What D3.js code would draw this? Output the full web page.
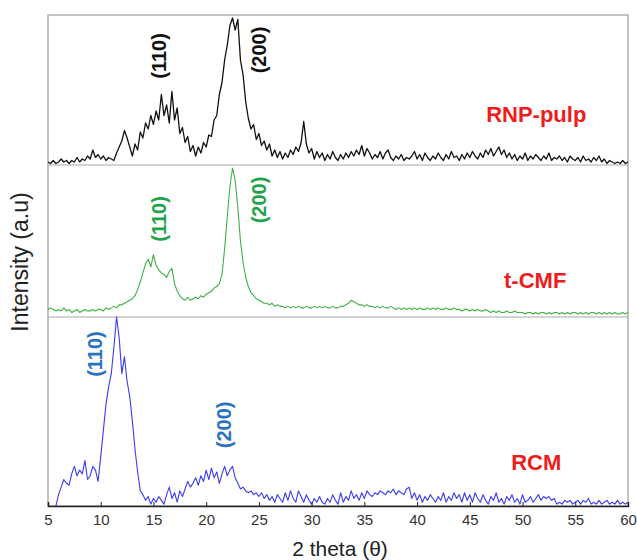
<!DOCTYPE html>
<html>
<head>
<meta charset="utf-8">
<script src="https://cdn.jsdelivr.net/npm/d3@7"></script>
<style>
  body { margin: 0; background: #fff; }
  text { font-family: "Liberation Sans", Arial, sans-serif; }
</style>
</head>
<body>
<svg id="chart" width="637" height="560"></svg>
<script>
// sample grid: 5..60 deg, step 0.25
const angles = d3.range(221).map(i => 5 + i * 0.25);
const xTicks = [5, 10, 15, 20, 25, 30, 35, 40, 45, 50, 55, 60];

// intensities, % of each panel's height
const rnpPulp = [
  2,1,3,1,2,4,2,3,1,3,2,5,2,4,3,6,4,10,5,7,
  4,6,3,5,4,3,8,12,16,23,18,12,6,14,10,22,18,28,24,33,
  27,36,30,47,33,40,28,49,30,38,21,25,15,19,9,13,6,12,8,15,
  12,20,19,30,33,47,55,70,80,93,98,90,97,70,60,42,31,24,27,17,
  21,13,16,10,14,6,10,5,9,4,8,5,10,7,12,9,15,29,14,8,
  11,4,9,5,8,3,7,4,9,5,3,7,4,8,5,9,6,10,7,13,
  6,11,8,4,7,5,9,4,8,10,5,3,6,4,7,3,5,4,6,9,
  4,7,3,8,5,3,6,4,8,5,3,7,4,9,5,6,3,7,4,8,
  5,9,6,4,8,5,10,7,11,6,9,12,7,10,5,8,4,7,3,6,
  4,8,3,6,4,7,5,3,6,4,8,3,5,4,6,3,5,2,6,4,
  3,5,2,6,3,4,2,5,3,6,2,4,1,3,2,1,2,1,3,1,2
];

const tCMF = [
  5,6,5,4,5,4,6,4,5,3,4,5,3,4,5,4,4,5,4,5,
  5,4,6,5,6,7,6,8,8,9,10,11,12,14,18,23,29,35,38,33,
  41,34,31,29,28,26,30,32,22,17,14,12,11,13,11,12,13,12,14,13,
  15,16,17,19,20,22,28,45,66,86,98,90,72,50,36,26,20,16,14,12,
  11,10,9,9,8,9,7,8,7,7,6,7,6,7,6,7,6,6,7,6,
  6,7,6,7,6,7,6,6,7,6,6,7,7,8,9,11,10,9,8,8,
  7,8,7,7,6,7,6,7,6,6,7,6,5,6,5,6,5,6,5,6,
  5,6,5,5,6,5,6,5,6,5,5,6,5,5,6,5,5,4,5,5,
  4,5,4,5,4,4,5,4,3,4,3,4,3,3,4,3,3,4,3,3,
  3,2,3,3,2,3,2,3,3,2,3,2,3,3,2,3,2,3,2,3,
  3,2,3,2,3,2,3,3,2,3,2,3,2,3,2,3,2,2,3,2,3
];

const rcm = [
  null,null,null,0,6,10,14,12,11,17,21,16,19,17,24,14,16,21,19,13,
  26,40,54,63,70,84,100,89,70,79,66,58,45,30,18,8,6,3,5,1,
  4,2,5,3,1,6,10,4,7,2,8,5,9,13,10,12,15,11,16,13,
  19,14,20,15,18,12,17,21,16,19,21,15,12,9,10,8,7,8,6,7,
  5,7,4,6,3,5,2,6,4,2,7,3,8,4,2,8,5,2,6,3,
  1,4,2,5,2,1,4,2,6,3,1,7,2,5,3,8,4,6,3,7,
  4,8,6,5,7,6,8,7,6,8,7,9,6,8,7,6,9,10,4,7,
  3,6,2,5,3,6,4,2,5,3,7,2,5,3,7,4,6,2,7,3,
  6,2,7,4,2,6,3,1,5,3,7,2,4,1,5,3,6,2,4,1,
  6,2,3,5,2,4,6,3,5,4,5,3,4,1,2,1,3,2,3,1,
  2,3,1,3,2,4,1,2,1,3,1,2,3,1,2,1,3,1,2,1,2
];

const seriesNames = ["RNP-pulp", "t-CMF", "RCM"];
const seriesColors = ["#111111", "#3cb043", "#3b3bef"];
const labelColors = ["#ee1c1c", "#ee1c1c", "#ee1c1c"];
const peakColors = ["#111111", "#1fa34a", "#2a72c0"];
// peak labels: [panel, text, angle, intensity]
const peakLabels = [
  [0, "(110)", 15.5, 72.7], [0, "(200)", 25.0, 76.7],
  [1, "(110)", 15.5, 64.5], [1, "(200)", 25.0, 77.0],
  [2, "(110)", 9.46, 80.4], [2, "(200)", 21.7, 42.9]
];
// series name position: [angle, intensity]
const namePos = [[51.3, 29], [51.2, 19], [51.3, 19]];

const svg = d3.select("#chart");
const x = d3.scaleLinear().domain([5, 60]).range([48, 628]);
const panels = [[15, 165], [165, 317], [317, 506]];
const yScales = panels.map(p => d3.scaleLinear().domain([0, 100]).range([p[1], p[0]]));
const allSeries = [rnpPulp, tCMF, rcm];

// frame + dividers
svg.append("rect")
  .attr("x", 48).attr("y", 15)
  .attr("width", 580).attr("height", 491)
  .attr("fill", "none").attr("stroke", "#9a9a9a").attr("stroke-width", 1.2);
svg.selectAll("line.divider")
  .data([165, 317])
  .join("line")
  .attr("class", "divider")
  .attr("x1", 48).attr("x2", 628)
  .attr("y1", d => d).attr("y2", d => d)
  .attr("stroke", "#a8a8a8").attr("stroke-width", 1.2);

allSeries.forEach((vals, k) => {
  const y = yScales[k];
  const line = d3.line()
    .defined(d => d[1] !== null)
    .x(d => x(d[0]))
    .y(d => y(d[1]));
  svg.append("path")
    .datum(angles.map((a, i) => [a, vals[i]]))
    .attr("fill", "none")
    .attr("stroke", seriesColors[k])
    .attr("stroke-width", k === 0 ? 1.3 : 1.1)
    .attr("stroke-linejoin", "round")
    .attr("d", line);

  svg.append("text")
    .attr("x", x(namePos[k][0]))
    .attr("y", y(namePos[k][1]))
    .attr("text-anchor", "middle")
    .attr("font-size", 22)
    .attr("font-weight", "bold")
    .attr("fill", labelColors[k])
    .text(seriesNames[k]);
});

svg.selectAll("text.peak")
  .data(peakLabels)
  .join("text")
  .attr("class", "peak")
  .attr("transform", d => `translate(${x(d[2])},${yScales[d[0]](d[3])}) rotate(-90)`)
  .attr("text-anchor", "middle")
  .attr("dominant-baseline", "central")
  .attr("font-size", 20)
  .attr("font-weight", "bold")
  .attr("fill", d => peakColors[d[0]])
  .text(d => d[1]);

// bottom axis
const xAxis = d3.axisBottom(x).tickValues(xTicks).tickSize(-4).tickPadding(8).tickFormat(d3.format("d"));
const gx = svg.append("g").attr("transform", "translate(0,506)").call(xAxis);
gx.select(".domain").attr("stroke", "#222").attr("stroke-width", 1.5);
gx.selectAll(".tick line").attr("stroke", "#222");
gx.selectAll(".tick text").attr("font-size", 15).attr("fill", "#333")
  .attr("font-family", "'Liberation Sans', Arial, sans-serif");

svg.append("text")
  .attr("x", 340).attr("y", 556)
  .attr("text-anchor", "middle")
  .attr("font-size", 21)
  .attr("fill", "#222")
  .text("2 theta (θ)");

svg.append("text")
  .attr("transform", "translate(28,262) rotate(-90)")
  .attr("text-anchor", "middle")
  .attr("font-size", 23)
  .attr("fill", "#222")
  .text("Intensity (a.u)");
</script>
</body>
</html>
